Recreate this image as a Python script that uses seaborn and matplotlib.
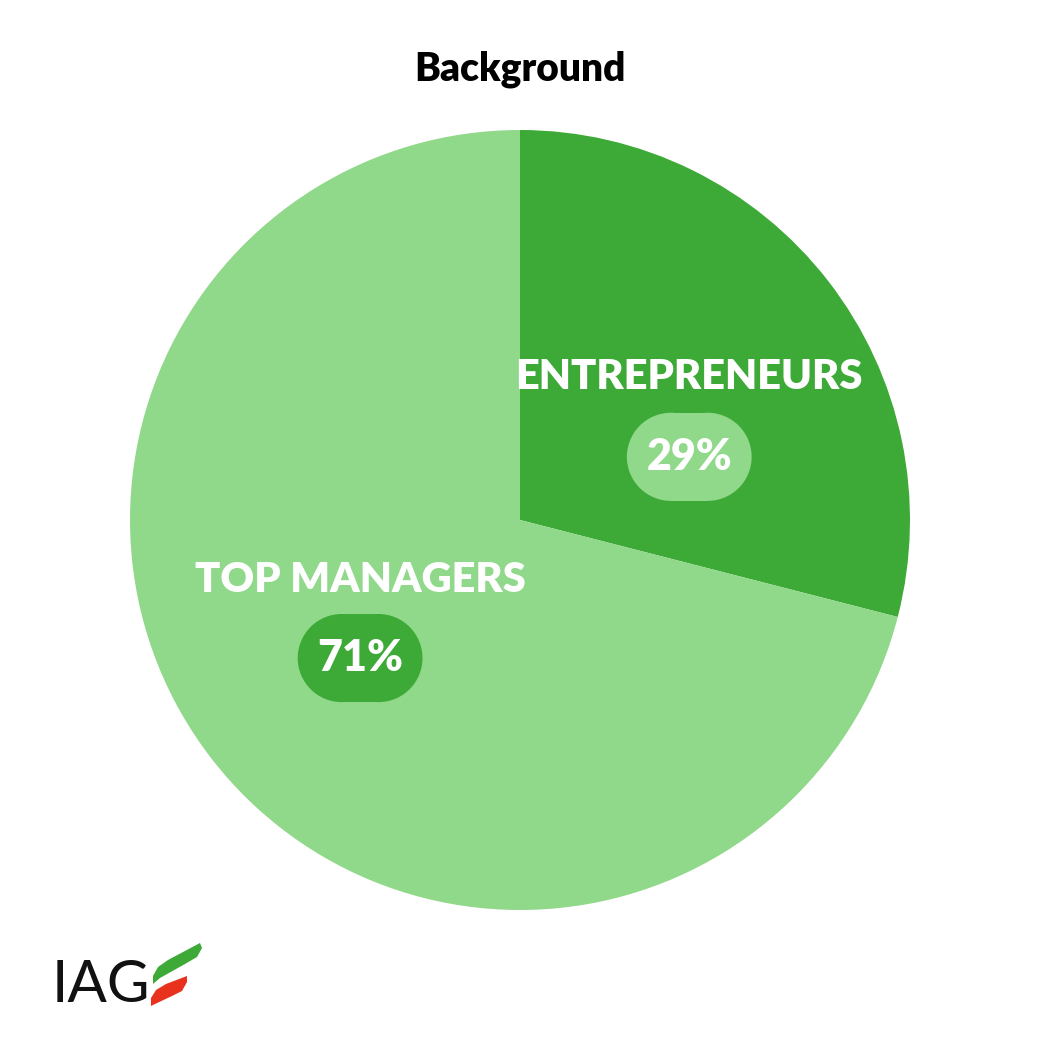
import seaborn as sns
import matplotlib.pyplot as plt
from matplotlib.patches import Rectangle, Circle, Polygon

# Data
categories = ['ENTREPRENEURS', 'TOP MANAGERS']
shares = [29, 71]
slice_colors = ['#3DAA37', '#90D88A']
pill_colors = ['#90D88A', '#3DAA37']
title = 'Background'

sns.set_style('white')
plt.rcParams['font.family'] = ['Lato', 'DejaVu Sans']

fig = plt.figure(figsize=(10.4, 10.4), dpi=100)
ax = fig.add_axes([130 / 1040, 130 / 1040, 780 / 1040, 780 / 1040])

ax.pie(shares, colors=slice_colors, startangle=90, counterclock=False,
       radius=1, wedgeprops=dict(linewidth=0))
ax.set_xlim(-1, 1)
ax.set_ylim(-1, 1)
ax.set_aspect('equal')
ax.axis('off')

# label positions (data units, pie radius = 1)
label_pos = [(0.432, 0.367), (-0.410, -0.154)]
pill_pos = [(0.434, 0.162), (-0.410, -0.354)]
pw, ph = 0.32, 0.226


def add_pill(cx, cy, color):
    # stadium shape: rectangle with two half circles
    r = ph / 2
    ax.add_patch(Rectangle((cx - pw / 2 + r, cy - r), pw - 2 * r, ph,
                           facecolor=color, edgecolor='none'))
    ax.add_patch(Circle((cx - pw / 2 + r, cy), r, facecolor=color,
                        edgecolor='none'))
    ax.add_patch(Circle((cx + pw / 2 - r, cy), r, facecolor=color,
                        edgecolor='none'))


for cat, val, (lx, ly), (px, py), pc in zip(categories, shares, label_pos,
                                            pill_pos, pill_colors):
    ax.text(lx, ly, cat, color='white', fontsize=30, fontweight='heavy',
            ha='center', va='center')
    add_pill(px, py, pc)
    ax.text(px, py, '%d%%' % val, color='white', fontsize=31,
            fontweight='heavy', ha='center', va='center')

fig.text(0.5, 1 - 69 / 1040, title, fontsize=28, fontweight='heavy',
         ha='center', va='center', color='black')

# Logo
fig.text(52 / 1040, 1 - 985 / 1040, 'IAG', fontsize=42, fontweight='normal',
         ha='left', va='center', color='#111111')


def px2fig(pts):
    return [(x / 1040, 1 - y / 1040) for x, y in pts]


green = px2fig([(153, 984), (153, 976), (158, 967), (168, 960), (200, 943),
                (202, 948), (197, 957), (185, 964), (160, 978)])
red = px2fig([(151, 1006), (151, 998), (156, 990), (166, 984), (187, 976),
              (187, 982), (182, 991), (172, 996), (155, 1004)])
fig.patches.append(Polygon(green, closed=True, facecolor='#3DAA37',
                           edgecolor='none', transform=fig.transFigure))
fig.patches.append(Polygon(red, closed=True, facecolor='#E8321E',
                           edgecolor='none', transform=fig.transFigure))

fig.savefig('out.png', dpi=100, facecolor='white')
